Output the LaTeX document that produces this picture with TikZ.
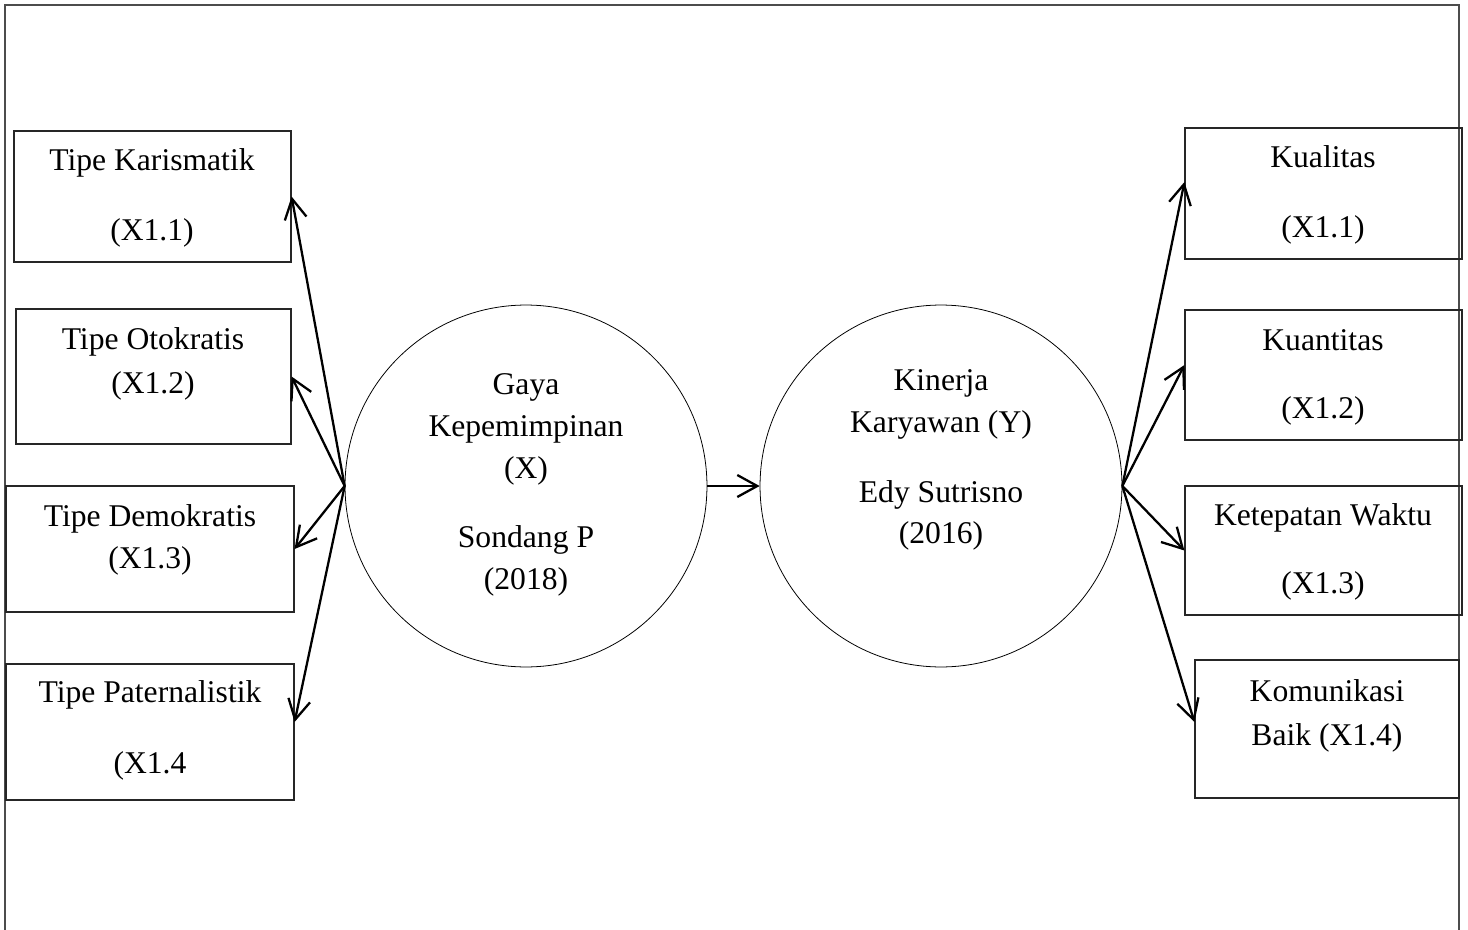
\documentclass[tikz,border=0pt]{standalone}
\usepackage{fontspec}
\setmainfont{Liberation Serif}
\usetikzlibrary{arrows.meta,positioning}

\begin{document}
\begin{tikzpicture}[x=0.02cm,y=-0.02cm,
	box/.style 2 args={draw=black!85,line width=0.7pt,minimum width=#1cm,minimum height=#2cm,inner sep=0pt},
	circ/.style={draw,circle,line width=0.45pt,minimum size=7.24cm,inner sep=0pt},
	txt/.style={align=center,font=\fontsize{18}{23.8}\selectfont,inner sep=0pt},
	arr/.style={line width=1.3pt,-{Straight Barb[length=4mm,width=4.4mm]}}]
			%%%%% START %%%%%
			\useasboundingbox (0,0) rectangle (1468,930);
			\draw[draw=black!70,line width=0.8pt] (5,930) -- (5,5) -- (1459,5) -- (1459,930);
			
			% left boxes
			\node[box={5.54}{2.62}] (k1) at (152.5,196.5) {};
			\node[box={5.5}{2.7}] (k2) at (153.5,376.5) {};
			\node[box={5.76}{2.52}] (k3) at (150,549) {};
			\node[box={5.76}{2.72}] (k4) at (150,732) {};
			\node[txt] (k1t) at (152,198) {Tipe Karismatik\\[16pt](X1.1)};
			\node[txt] (k2t) at (153,364) {Tipe Otokratis\\[1pt](X1.2)};
			\node[txt] (k3t) at (150,540) {Tipe Demokratis\\(X1.3)};
			\node[txt] (k4t) at (150,730.5) {Tipe Paternalistik\\[16.5pt](X1.4};
			
			% right boxes
			\node[box={5.54}{2.62}] (q1) at (1323.5,193.5) {};
			\node[box={5.54}{2.6}] (q2) at (1323.5,375) {};
			\node[box={5.54}{2.58}] (q3) at (1323.5,550.5) {};
			\node[box={5.28}{2.76}] (q4) at (1327,729) {};
			\node[txt] (q1t) at (1323,195) {Kualitas\\[16pt](X1.1)};
			\node[txt] (q2t) at (1323,377) {Kuantitas\\[14.8pt](X1.2)};
			\node[txt] (q3t) at (1323,552) {Ketepatan Waktu\\[14.8pt](X1.3)};
			\node[txt] (q4t) at (1327,716) {Komunikasi\\[1pt]Baik (X1.4)};
			
			% circles
			\node[circ] (gaya) at (526,486) {};
			\node[circ] (kinerja) at (941,486) {};
			\node[txt] (gayat) at (526,485) {Gaya\\Kepemimpinan\\(X)\\[16pt]Sondang P\\(2018)};
			\node[txt] (kinerjat) at (941,460) {Kinerja\\Karyawan (Y)\\[16pt]Edy Sutrisno\\(2016)};
			
			% arrows
			\draw[arr] (gaya.west) -- (k1.east);
			\draw[arr] (gaya.west) -- (k2.east);
			\draw[arr] (gaya.west) -- (k3.east);
			\draw[arr] (gaya.west) -- ([yshift=0.2cm]k4.east);
			\draw[arr] (gaya.east) -- (kinerja.west);
			\draw[arr] (kinerja.east) -- ([yshift=0.23cm]q1.west);
			\draw[arr] (kinerja.east) -- ([yshift=0.2cm]q2.west);
			\draw[arr] (kinerja.east) -- (q3.west);
			\draw[arr] (kinerja.east) -- ([yshift=0.14cm]q4.west);
			%%%%% END %%%%%
\end{tikzpicture}
\end{document}
